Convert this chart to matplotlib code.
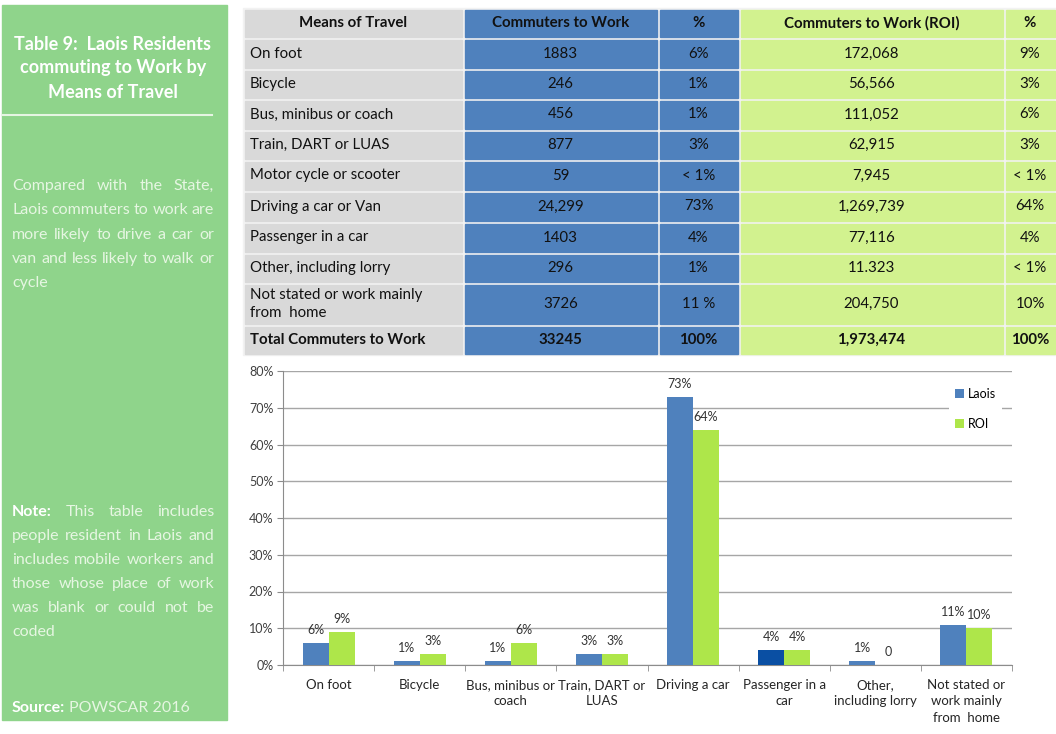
import matplotlib
matplotlib.use("Agg")
import matplotlib.pyplot as plt
from matplotlib.patches import Rectangle

plt.rcParams['font.family'] = ['Lato', 'DejaVu Sans']

# table data
header = ["Means of Travel", "Commuters to Work", "%", "Commuters to Work (ROI)", "%"]
means = ["On foot", "Bicycle", "Bus, minibus or coach", "Train, DART or LUAS",
         "Motor cycle or scooter", "Driving a car or Van", "Passenger in a car",
         "Other, including lorry", "Not stated or work mainly\nfrom  home",
         "Total Commuters to Work"]
laois_counts = ["1883", "246", "456", "877", "59", "24,299", "1403", "296", "3726", "33245"]
laois_pct = ["6%", "1%", "1%", "3%", "< 1%", "73%", "4%", "1%", "11 %", "100%"]
roi_counts = ["172,068", "56,566", "111,052", "62,915", "7,945", "1,269,739", "77,116",
              "11.323", "204,750", "1,973,474"]
roi_pct = ["9%", "3%", "6%", "3%", "< 1%", "64%", "4%", "< 1%", "10%", "100%"]

# chart data
chart_cats = ["On foot", "Bicycle", "Bus, minibus or\ncoach", "Train, DART or\nLUAS",
              "Driving a car", "Passenger in a\ncar", "Other,\nincluding lorry",
              "Not stated or\nwork mainly\nfrom  home"]
laois_vals = [6, 1, 1, 3, 73, 4, 1, 11]
roi_vals = [9, 3, 6, 3, 64, 4, 0, 10]
laois_lbl = ["6%", "1%", "1%", "3%", "73%", "4%", "1%", "11%"]
roi_lbl = ["9%", "3%", "6%", "3%", "64%", "4%", "0", "10%"]

W, H = 1056, 734
fig = plt.figure(figsize=(W / 100, H / 100), dpi=100)
ax0 = fig.add_axes([0, 0, 1, 1])
ax0.set_xlim(0, W)
ax0.set_ylim(H, 0)
ax0.axis("off")

# sidebar
side_green = "#8fd48b"
ax0.add_patch(Rectangle((2, 5), 225, 715, color=side_green, zorder=0))
ax0.text(113, 68, "Table 9:  Laois Residents\ncommuting to Work by\nMeans of Travel",
         ha="center", va="center", color="white", fontsize=13, fontweight="bold",
         linespacing=1.5)
ax0.plot([2, 212], [115, 115], color="#e6f5e3", lw=1.5)

renderer = fig.canvas.get_renderer()
BODY_FS = 11.5


def word_w(word, bold):
    t = ax0.text(0, 0, word, fontsize=BODY_FS, fontweight="bold" if bold else "normal")
    w = t.get_window_extent(renderer).width
    t.remove()
    return w


def justify(lines, x0, x1, y0, dy, color, bold_first=False, last_left=True):
    for i, line in enumerate(lines):
        words = line.split(" ")
        bolds = [bold_first and i == 0 and j == 0 for j in range(len(words))]
        widths = [word_w(w, b) for w, b in zip(words, bolds)]
        y = y0 + i * dy
        if (last_left and i == len(lines) - 1) or len(words) == 1:
            gap = word_w(" ", False) + 1
        else:
            gap = (x1 - x0 - sum(widths)) / (len(words) - 1)
        x = x0
        for w, b, wd in zip(words, bolds, widths):
            ax0.text(x, y, w, fontsize=BODY_FS, va="center", ha="left",
                     color="white" if b else color,
                     fontweight="bold" if b else "normal")
            x += wd + gap


body_col = "#e6f6e2"
justify(["Compared with the State,", "Laois commuters to work are",
         "more likely to drive a car or", "van and less likely to walk or", "cycle"],
        12, 214, 186, 24.3, body_col)
justify(["Note: This table includes", "people resident in Laois and",
         "includes mobile workers and", "those whose place of work",
         "was blank or could not be", "coded"],
        12, 214, 512, 24, body_col, bold_first=True)
ax0.text(12, 708, "Source:", fontsize=BODY_FS, fontweight="bold", color="white", va="center")
ax0.text(12 + word_w("Source:", True) + 4, 708, "POWSCAR 2016", fontsize=BODY_FS,
         color=body_col, va="center")

# table
TFS = 10.8
col_x = [243, 463, 658, 739, 1004, 1056]
row_y = [8, 38, 69, 99, 130, 160, 191, 222, 253, 283, 325, 355]
col_colors = ["#d9d9d9", "#4f81bd", "#4f81bd", "#d2f28f", "#d2f28f"]
ax0.add_patch(Rectangle((col_x[0], row_y[0]), col_x[-1] - col_x[0], row_y[-1] - row_y[0],
                        color="#f2f2f2", zorder=0))
columns = [means, laois_counts, laois_pct, roi_counts, roi_pct]
for c in range(5):
    for r in range(len(row_y) - 1):
        x0, x1 = col_x[c] + 1.5, col_x[c + 1] - 1.5
        y0, y1 = row_y[r] + 1.5, row_y[r + 1] - 1.5
        ax0.add_patch(Rectangle((x0, y0), x1 - x0, y1 - y0, color=col_colors[c], zorder=1))
        ym = (row_y[r] + row_y[r + 1]) / 2
        if r == 0:
            ax0.text((x0 + x1) / 2, ym, header[c], ha="center", va="center",
                     fontsize=TFS, fontweight="bold", color="#111111", zorder=2)
        else:
            txt = columns[c][r - 1]
            bold = r == len(row_y) - 2
            if c == 0:
                ax0.text(250, ym, txt, ha="left", va="center", fontsize=TFS,
                         fontweight="bold" if bold else "normal", color="#111111",
                         linespacing=1.4, zorder=2)
            else:
                ax0.text((x0 + x1) / 2, ym, txt, ha="center", va="center", fontsize=TFS,
                         fontweight="bold" if bold else "normal", color="#111111", zorder=2)

# bar chart
ax = fig.add_axes([283 / W, (H - 665) / H, (1012 - 283) / W, (665 - 371) / H])
n = len(chart_cats)
xs = list(range(n))
bw = 0.286
blue = "#4f81bd"
green = "#aee64a"
laois_colors = [blue] * n
laois_colors[5] = "#0a4fa3"
ax.bar([x - bw / 2 for x in xs], laois_vals, bw, color=laois_colors, label="Laois", zorder=3)
ax.bar([x + bw / 2 for x in xs], roi_vals, bw, color=green, label="ROI", zorder=3)
for x, v, l in zip(xs, laois_vals, laois_lbl):
    ax.annotate(l, (x - bw / 2, v), xytext=(0, 5), textcoords="offset points",
                ha="center", va="bottom", fontsize=9, color="#333333")
for x, v, l in zip(xs, roi_vals, roi_lbl):
    ax.annotate(l, (x + bw / 2, v), xytext=(0, 5), textcoords="offset points",
                ha="center", va="bottom", fontsize=9, color="#333333")
ax.set_xlim(-0.5, n - 0.5)
ax.set_ylim(0, 80)
ax.set_yticks(range(0, 81, 10))
ax.set_yticklabels([f"{v}%" for v in range(0, 81, 10)], fontsize=9, color="#404040")
ax.set_xticks(xs)
ax.set_xticklabels(chart_cats, fontsize=9.5, color="#262626", linespacing=1.45)
ax.set_xticks([x + 0.5 for x in range(-1, n)], minor=True)
ax.tick_params(axis="x", which="major", length=0, pad=10)
ax.tick_params(axis="x", which="minor", length=4, color="#8c8c8c", direction="out")
ax.tick_params(axis="y", length=4, color="#8c8c8c", pad=3)
ax.grid(axis="y", color="#a6a6a6", lw=1, zorder=0)
for s in ["top", "right"]:
    ax.spines[s].set_visible(False)
for s in ["left", "bottom"]:
    ax.spines[s].set_color("#8c8c8c")
leg = ax.legend(loc="upper right", bbox_to_anchor=(0.995, 0.985), fontsize=9,
                handlelength=0.7, handleheight=0.7, handletextpad=0.3,
                labelspacing=1.45, framealpha=1, facecolor="white", edgecolor="none",
                borderpad=0.5)
leg.set_zorder(5)

fig.savefig("out.png", dpi=100)
